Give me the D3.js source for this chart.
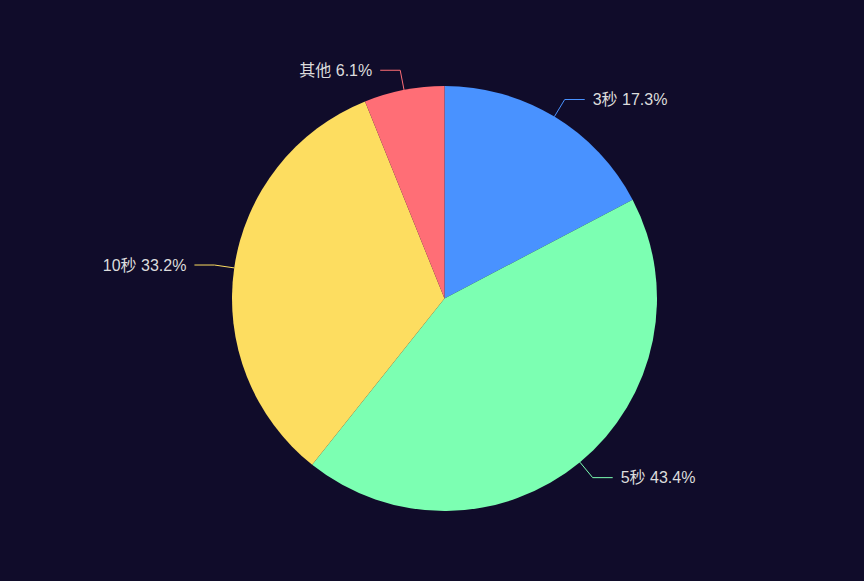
<!DOCTYPE html>
<html>
<head>
<meta charset="utf-8">
<script src="https://cdn.jsdelivr.net/npm/d3@7"></script>
<style>
  html, body { margin: 0; padding: 0; background: #100c2a; }
</style>
</head>
<body>
<div id="chart"></div>
<script>
const categories = ["3秒", "5秒", "10秒", "其他"];
const values = [17.3, 43.4, 33.2, 6.1];
const colors = ["#4992ff", "#7cffb2", "#fddd60", "#ff6e76"];

const width = 864, height = 581;
const cx = 444.5, cy = 298.5, radius = 212.5;

const dataset = categories.map((c, i) => ({ name: c, value: values[i], color: colors[i] }));

const svg = d3.select("#chart")
  .append("svg")
  .attr("width", width)
  .attr("height", height);

svg.append("rect")
  .attr("width", width)
  .attr("height", height)
  .attr("fill", "#100c2a");

const g = svg.append("g")
  .attr("transform", `translate(${cx},${cy})`);

const pie = d3.pie().value(d => d.value).sort(null);
const arc = d3.arc().innerRadius(0).outerRadius(radius);
const arcs = pie(dataset);

g.selectAll("path")
  .data(arcs)
  .enter().append("path")
  .attr("d", arc)
  .attr("fill", d => d.data.color);

// label lines
const pointAt = (a, r) => [Math.sin(a) * r, -Math.cos(a) * r];

arcs.forEach(d => {
  const mid = (d.startAngle + d.endAngle) / 2;
  const p0 = pointAt(mid, radius);
  const p1 = pointAt(mid, radius + 20);
  const right = Math.sin(mid) >= 0;
  const p2 = [p1[0] + (right ? 20 : -20), p1[1]];

  g.append("polyline")
    .attr("points", [p0, p1, p2].map(p => p.join(",")).join(" "))
    .attr("fill", "none")
    .attr("stroke", d.data.color)
    .attr("stroke-width", 1);

  g.append("text")
    .attr("x", p2[0] + (right ? 8 : -8))
    .attr("y", p2[1])
    .attr("dy", "0.35em")
    .attr("text-anchor", right ? "start" : "end")
    .style("fill", "#dcdcdc")
    .style("font-size", "16px")
    .style("font-family", "'Liberation Sans', 'Noto Sans CJK SC', sans-serif")
    .text(`${d.data.name} ${d.data.value.toFixed(1)}%`);
});
</script>
</body>
</html>
